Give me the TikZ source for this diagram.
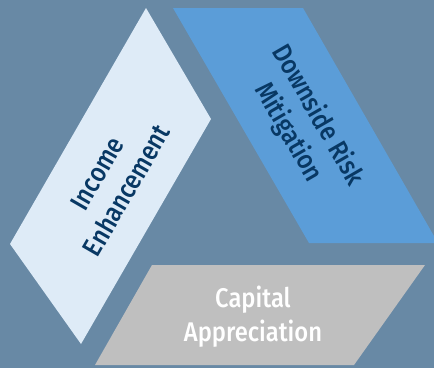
\documentclass[tikz,border=0pt]{standalone}
\usepackage{fontspec}
\setmainfont{Fira Sans}[UprightFont={* Medium}, FakeStretch=0.88]
\definecolor{bgcol}{RGB}{104,137,165}
\definecolor{lightpanel}{RGB}{222,235,247}
\definecolor{bluepanel}{RGB}{91,157,216}
\definecolor{graypanel}{RGB}{191,191,191}
\definecolor{navytext}{RGB}{8,56,100}
\begin{document}
\begin{tikzpicture}[x=1pt,y=-1pt,
  lbl/.style={font=\fontsize{27}{34}\selectfont, align=center, inner sep=0pt}]
\useasboundingbox (0,0) rectangle (434,368);
\fill[bgcol] (0,0) rectangle (434,368);
\begin{scope}
\clip (0,0) rectangle (434,368);
\coordinate (lt) at (146,8);
\coordinate (lr) at (211,119);
\coordinate (lb) at (81,344);
\coordinate (ll) at (10,244);
\fill[lightpanel] (lt) -- (lr) -- (lb) -- (ll) -- cycle;
\coordinate (bt1) at (173,8);
\coordinate (bt2) at (303,8);
\coordinate (bb2) at (438,243);
\coordinate (bb1) at (309,243);
\fill[bluepanel] (bt1) -- (bt2) -- (bb2) -- (bb1) -- cycle;
\coordinate (gt1) at (152,265);
\coordinate (gt2) at (425,265);
\coordinate (gb2) at (354,365);
\coordinate (gb1) at (95,365);
\fill[graypanel] (gt1) -- (gt2) -- (gb2) -- (gb1) -- cycle;
\end{scope}
\node[lbl, text=navytext, rotate=60] (income) at (112,182) {Income\\Enhancement};
\node[lbl, text=navytext, rotate=-60] (downside) at (303,124) {Downside Risk\\Mitigation};
\node[lbl, text=white] (capital) at (253,317) {Capital\\Appreciation};
\end{tikzpicture}
\end{document}
